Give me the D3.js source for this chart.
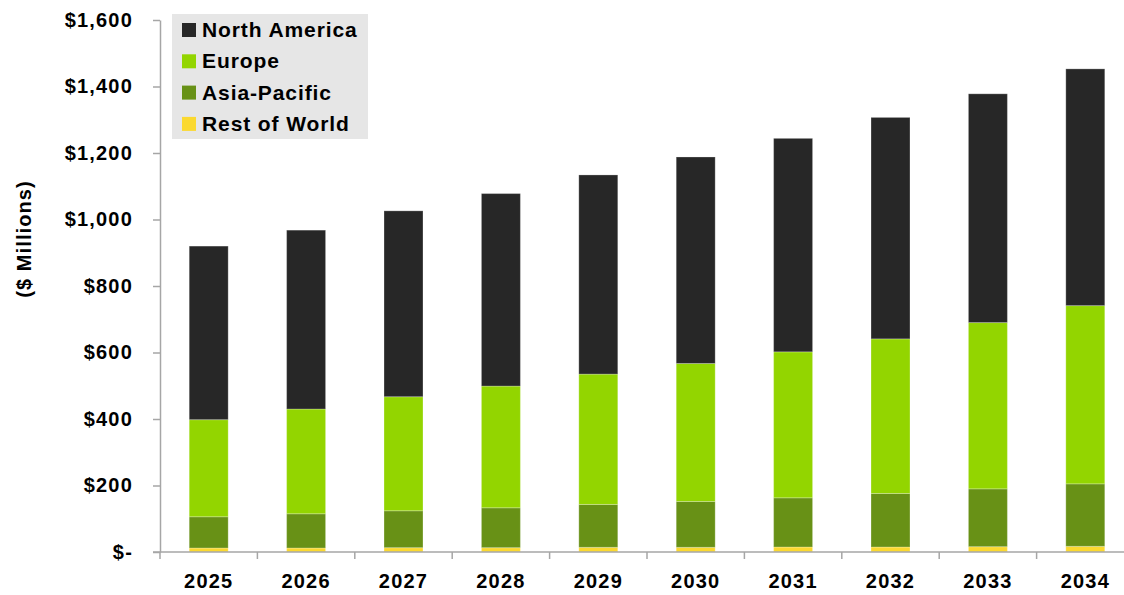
<!DOCTYPE html>
<head>
<style>
  body { margin: 0; background: #fff; }
  text { font-family: "Liberation Sans", Arial, sans-serif; font-weight: bold; fill: #000; }
</style>
</head>
<body>
<svg width="1124" height="595"></svg>
<script src="https://d3js.org/d3.v7.min.js"></script>
<script>

var years = ["2025", "2026", "2027", "2028", "2029", "2030", "2031", "2032", "2033", "2034"];
var northAmerica = [522, 538, 559, 579, 599, 621, 642, 666, 688, 712];
var europe       = [292, 315, 343, 366, 392, 415, 439, 465, 500, 536];
var asiaPacific  = [94, 103, 111, 120, 129, 138, 148, 161, 174, 188];
var restOfWorld  = [12, 12, 13, 13, 14, 14, 15, 15, 16, 17];
var yTicks = [0, 200, 400, 600, 800, 1000, 1200, 1400, 1600];

var seriesNames = ["Rest of World", "Asia-Pacific", "Europe", "North America"];
var colors = {
  "North America": "#272727",
  "Europe": "#93d500",
  "Asia-Pacific": "#689116",
  "Rest of World": "#fbd930"
};

var rows = years.map(function(y, i) {
  return {
    year: y,
    "Rest of World": restOfWorld[i],
    "Asia-Pacific": asiaPacific[i],
    "Europe": europe[i],
    "North America": northAmerica[i]
  };
});

var svg = d3.select("svg"),
    margin = {top: 20, left: 160},
    width = 974,
    height = 532,
    g = svg.append("g").attr("transform", "translate(" + margin.left + "," + margin.top + ")");

var x = d3.scaleBand()
    .domain(years)
    .range([0, width])
    .paddingInner(0.6)
    .paddingOuter(0.3);

var y = d3.scaleLinear()
    .domain([0, 1600])
    .range([height, 0]);

var stacked = d3.stack().keys(seriesNames)(rows);

// bars
g.selectAll(".series")
  .data(stacked)
  .enter().append("g")
    .attr("fill", function(d) { return colors[d.key]; })
  .selectAll("rect")
  .data(function(d) { return d; })
  .enter().append("rect")
    .attr("x", function(d) { return x(d.data.year); })
    .attr("y", function(d) { return y(d[1]); })
    .attr("width", x.bandwidth())
    .attr("height", function(d) { return y(d[0]) - y(d[1]); })
    .attr("stroke", "#ffffff")
    .attr("stroke-opacity", 0.25)
    .attr("stroke-width", 1);

// y axis
var yAxis = g.append("g")
    .call(d3.axisLeft(y)
      .tickValues(yTicks)
      .tickSize(7)
      .tickSizeOuter(0)
      .tickPadding(20)
      .tickFormat(function(d) { return d === 0 ? "$-" : "$" + d3.format(",")(d); }));
yAxis.selectAll("path, line").attr("stroke", "#a6a6a6").attr("stroke-width", 1.5);
yAxis.selectAll("text")
    .style("font-size", "20px")
    .style("letter-spacing", "1.2px")
    .attr("fill", "#000");

// x axis
var xAxis = g.append("g")
    .attr("transform", "translate(0," + height + ")")
    .call(d3.axisBottom(x).tickSize(0).tickSizeOuter(0).tickPadding(22));
xAxis.select(".domain").remove();
xAxis.selectAll("text")
    .style("font-size", "20px")
    .style("letter-spacing", "1.2px")
    .attr("fill", "#000");

g.append("line")
    .attr("x1", -7).attr("x2", width)
    .attr("y1", height).attr("y2", height)
    .attr("stroke", "#a6a6a6").attr("stroke-width", 1.5);

// category separators
g.selectAll(".sep")
  .data(years)
  .enter().append("line")
    .attr("x1", function(d) { return x(d) + x.bandwidth() / 2 - x.step() / 2; })
    .attr("x2", function(d) { return x(d) + x.bandwidth() / 2 - x.step() / 2; })
    .attr("y1", height)
    .attr("y2", height + 7)
    .attr("stroke", "#a6a6a6").attr("stroke-width", 1.5);

// axis title
svg.append("text")
    .attr("transform", "translate(31,239) rotate(-90)")
    .attr("text-anchor", "middle")
    .style("font-size", "20px")
    .style("letter-spacing", "1.1px")
    .text("($ Millions)");

// legend
var legend = svg.append("g").attr("transform", "translate(172,14)");
legend.append("rect")
    .attr("width", 196)
    .attr("height", 125)
    .attr("fill", "#e6e6e6");

var legendItems = seriesNames.slice().reverse();
var item = legend.selectAll(".item")
  .data(legendItems)
  .enter().append("g")
    .attr("transform", function(d, i) { return "translate(10," + (9 + i * 31.3) + ")"; });

item.append("rect")
    .attr("width", 14)
    .attr("height", 14)
    .attr("fill", function(d) { return colors[d]; });

item.append("text")
    .attr("x", 20)
    .attr("y", 14)
    .style("font-size", "21px")
    .style("letter-spacing", "0.9px")
    .text(function(d) { return d; });

</script>
</body>
